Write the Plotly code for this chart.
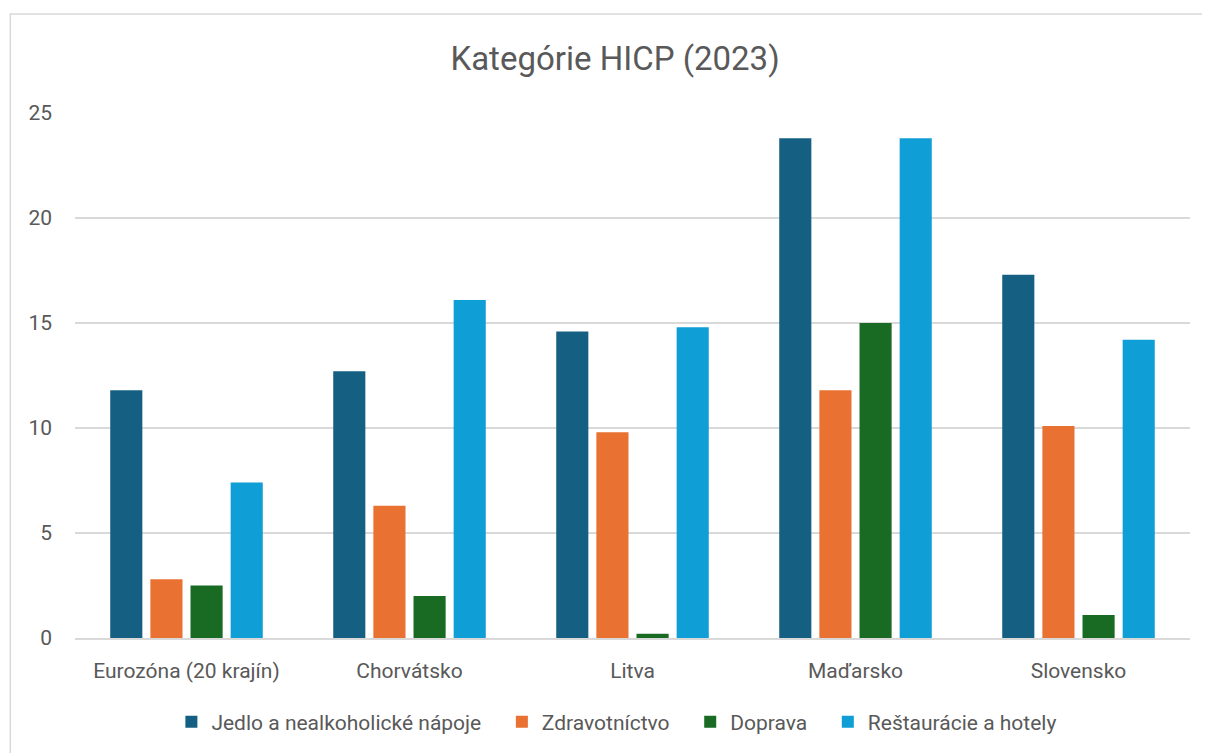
import plotly.graph_objects as go

krajiny = ["Eurozóna (20 krajín)", "Chorvátsko", "Litva", "Maďarsko", "Slovensko"]

jedlo = [11.8, 12.7, 14.6, 23.8, 17.3]
zdravotnictvo = [2.8, 6.3, 9.8, 11.8, 10.1]
doprava = [2.5, 2.0, 0.2, 15.0, 1.1]
restauracie = [7.4, 16.1, 14.8, 23.8, 14.2]

y_ticks = [0, 5, 10, 15, 20, 25]

series = [
    ("Jedlo a nealkoholické nápoje", jedlo, "#156082"),
    ("Zdravotníctvo", zdravotnictvo, "#E97132"),
    ("Doprava", doprava, "#196B24"),
    ("Reštaurácie a hotely", restauracie, "#0F9ED5"),
]

pad = "&nbsp;" * 3  # extra room between legend entries

fig = go.Figure()
for i, (name, vals, color) in enumerate(series):
    label = name + (pad if i < len(series) - 1 else "")
    fig.add_trace(go.Bar(
        x=krajiny, y=vals, name=label,
        marker=dict(color=color, line=dict(width=0)),
    ))

font = "Roboto, Open Sans, sans-serif"

# page body has an 8px margin, so the figure is offset by 8px in the screenshot
fig.update_layout(
    width=1210, height=753,
    paper_bgcolor="white", plot_bgcolor="white",
    margin=dict(l=67, r=28, t=105, b=123),
    barmode="group", bargap=0.28, bargroupgap=0.2,
    font=dict(family=font, color="#595959", size=21),
    title=dict(text="Kategórie HICP (2023)", x=0.5017, xanchor="center",
               y=1 - 50 / 753, yanchor="middle",
               font=dict(size=33, color="#595959", family=font)),
    xaxis=dict(showgrid=False, showline=True, linecolor="#D9D9D9", linewidth=1.5,
               ticks="", tickfont=dict(size=21), ticklabelstandoff=13),
    yaxis=dict(range=[0, 25], tickvals=y_ticks, showgrid=True, gridcolor="#D9D9D9",
               gridwidth=1.5, zeroline=False, ticks="", ticklabelstandoff=22,
               tickfont=dict(size=21)),
    legend=dict(orientation="h", x=0.486, xanchor="center", y=-0.16, yanchor="middle",
                font=dict(size=21), itemwidth=30, traceorder="normal"),
    showlegend=True,
)

fig.add_shape(type="rect", xref="paper", yref="paper",
              x0=-0.058, x1=1.03, y0=-0.3, y1=1.1886,
              line=dict(color="#D9D9D9", width=1.5), fillcolor="rgba(0,0,0,0)", layer="below")

fig.write_html("out.html")
